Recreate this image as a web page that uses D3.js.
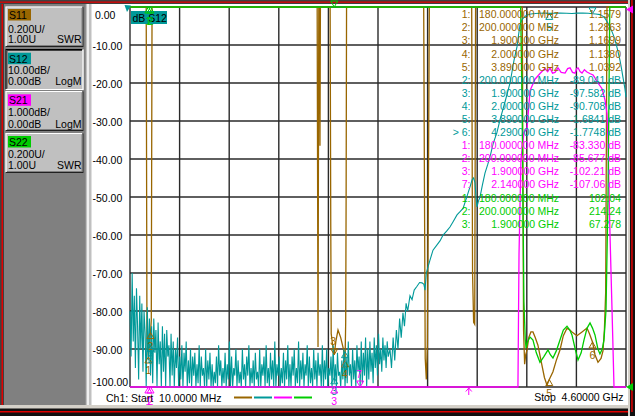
<!DOCTYPE html>
<html><head><meta charset="utf-8">
<script src="https://cdn.jsdelivr.net/npm/d3@7"></script>
<style>
html,body{margin:0;padding:0;background:#fff;overflow:hidden}
svg{display:block}
text{font-family:"Liberation Sans",Arial,sans-serif;font-size:10.5px;white-space:pre}
</style>
</head><body>
<svg id="c" width="635" height="416"></svg>
<script>
// ---------------- data ----------------
const startMHz = 10, stopMHz = 4600;
const xGridMHz = [10,469,928,1387,1846,2305,2764,3223,3682,4141,4600];
const yTicksDb = [0,-10,-20,-30,-40,-50,-60,-70,-80,-90,-100];
const yTickLabels = ["0.00","-10.00","-20.00","-30.00","-40.00","-50.00","-60.00","-70.00","-80.00","-90.00","-100.00"];

const traceNames = ["S11","S12","S21","S22"];
const traceColors = ["#996600","#009999","#ff00ff","#00cc00"];
const panelScale = ["0.200U/","10.00dB/","1.000dB/","0.200U/"];
const panelRef = ["1.00U","0.00dB","0.00dB","1.00U"];
const panelFormat = ["SWR","LogM","LogM","SWR"];

// S11 (SWR) [MHz, SWR]
const s11 = [[10,9],[160,9],[167,1.25],[180,1.158],[190,1.22],[200,1.286],[207,1.35],[214,9],
 [1742,9],[1750,1.21],[1757,9],[1764,9],[1768,2.27],[1772,9],
 [1862,9],[1868,1.84],[1872,1.28],[1885,1.22],[1900,1.17],[1915,1.24],[1935,1.3],[1960,1.26],[1985,1.2],[2000,1.138],[2006,1.34],[2010,2.0],[2014,9],
 [2728,9],[2734,2.17],[2742,1.15],[2752,1.04],[2762,1.22],[2772,2.1],[2780,9],
 [3172,9],[3180,1.6],[3190,1.34],[3200,1.33],[3208,9],
 [3640,9],[3652,1.3],[3662,1.12],[3672,1.17],[3684,1.195],[3700,1.26],[3720,1.29],[3739,1.29],[3760,1.26],[3785,1.22],[3813,1.14],[3845,1.05],[3869,1.01],[3890,1.039],[3924,1.08],[3955,1.14],[3989,1.195],[4020,1.27],[4054,1.31],[4080,1.3],[4100,1.29],[4146,1.27],[4193,1.29],[4239,1.31],[4262,1.28],[4290,1.237],[4313,1.17],[4341,1.13],[4369,1.15],[4387,1.19],[4400,1.3],[4412,1.5],[4424,9],[4600,9]];

// S12 noise floor (dB), 10 MHz spacing from 10 MHz
const s12Noise = [
 -80,-92,-70,-88,-76,-95,-74,-84,-98,-76,-90,-78,-96,-80,-86,-100,-79,-93,-82,-97,
 -84,-99,-82,-91,-85,-102,-83,-94,-88,-100,-84,-96,-86,-103,-85,-92,-89,-101,-86,-97,
 -88,-104,-90,-95,-87,-100,-92,-98,-89,-105,-91,-96,-88,-101,-93,-99,-90,-103,-92,-97,
 -91,-102,-94,-99,-89,-104,-92,-97,-95,-101,-90,-106,-93,-98,-91,-100,-94,-103,-96,-99,
 -92,-101,-89,-97,-93,-105,-95,-99,-91,-102,-94,-98,-88,-104,-92,-100,-95,-97,-90,-103,
 -93,-99,-96,-102,-90,-98,-94,-105,-92,-97,-89,-101,-95,-99,-93,-104,-91,-98,-96,-100,
 -90,-103,-94,-97,-92,-101,-89,-99,-95,-104,-91,-98,-93,-100,-88,-102,-94,-97,-92,-105,
 -95,-99,-91,-102,-93,-98,-89,-100,-94,-103,-92,-97,-90,-101,-95,-99,-88,-104,-93,-98,
 -91,-100,-94,-97,-89,-103,-92,-99,-95,-101,-90,-98,-93,-104,-91,-97,-94,-100,-89,-102,
 -93,-98,-90,-101,-95,-97,-92,-103,-89,-99,-94,-100,-91,-97,-96,-102,-93,-98,-90,-101,
 -92,-99,-88,-97,-94,-102,-90,-98,-93,-100,-89,-96,-92,-101,-88,-99,-91,-97,-87,-100,
 -90,-98,-88,-96,-91,-99,-87,-95,-89,-97,-86,-94,-90,-96,-87,-93,-89,-95,-88,-92];
// S12 rising edge and passband [MHz, dB]
const s12Band = [[2416,-90],[2430,-95],[2445,-87],[2460,-93],[2475,-85],[2490,-90],[2505,-82],[2520,-87],[2536,-80.5],[2550,-84],[2565,-78],[2580,-80],[2601,-76],[2620,-77],[2640,-74.5],[2666,-73.5],[2690,-72.5],[2712,-72.6],[2730,-73],[2740,-74.5],[2752,-70],[2768,-68.4],[2786,-66.6],[2814,-64],[2851,-62.6],[2880,-61.5],[2907,-60],[2940,-59],[2971,-57.9],[3000,-56.5],[3036,-54.7],[3060,-54],[3092,-53],[3115,-51],[3138,-49],[3160,-47],[3175,-45.5],[3190,-45],[3203,-46.3],[3212,-50],[3221,-52.6],[3235,-51],[3249,-50],[3270,-47],[3295,-43.7],[3320,-41.5],[3341,-39.5],[3370,-36],[3406,-33],[3434,-29.7],[3480,-25],[3527,-20],[3564,-14],[3591,-10.5],[3605,-7.5],[3619,-4.7],[3635,-3.5],[3647,-3],[3665,-2.5],[3684,-2.1],[3720,-1.85],[3758,-1.7],[3800,-1.65],[3850,-1.62],[3890,-1.684],[3940,-1.64],[3990,-1.6],[4050,-1.66],[4100,-1.7],[4150,-1.62],[4200,-1.58],[4250,-1.65],[4290,-1.775],[4320,-1.85],[4359,-2.0],[4385,-2.4],[4406,-3.0],[4430,-4.1],[4452,-5.3],[4475,-6.8],[4498,-8.5],[4520,-11],[4544,-14],[4560,-16.5],[4572,-18.5],[4590,-21.5],[4600,-23.7]];

// S21 [MHz, dB]
const s21 = [[10,-80],[180,-83.33],[200,-85.677],[1900,-102.21],[2140,-107.06],[3585,-40],[3600,-12],[3610,-6.5],[3628,-4],[3656,-3.3],[3684,-3.2],[3712,-2.2],[3758,-1.9],[3804,-1.75],[3850,-1.62],[3875,-1.7],[3897,-1.605],[3920,-1.74],[3943,-1.72],[3971,-1.605],[4000,-1.72],[4036,-1.74],[4060,-1.62],[4082,-1.6],[4105,-1.72],[4128,-1.74],[4145,-1.62],[4156,-1.6],[4175,-1.7],[4193,-1.737],[4215,-1.65],[4239,-1.71],[4265,-1.75],[4295,-1.79],[4320,-1.9],[4341,-2.0],[4378,-2.15],[4406,-2.45],[4424,-2.8],[4433,-3.5],[4452,-6],[4471,-8],[4489,-12],[4600,-60]];

// S22 (SWR) [MHz, SWR]
const s22 = [[10,9],[3625,9],[3640,2.4],[3655,1.45],[3668,1.25],[3675,1.205],[3690,1.24],[3712,1.263],[3739,1.247],[3770,1.18],[3804,1.13],[3840,1.16],[3878,1.195],[3900,1.17],[3924,1.153],[3955,1.19],[3989,1.247],[4020,1.3],[4054,1.32],[4080,1.3],[4100,1.274],[4130,1.2],[4156,1.142],[4185,1.18],[4211,1.247],[4240,1.31],[4267,1.337],[4290,1.31],[4313,1.274],[4340,1.2],[4359,1.174],[4380,1.2],[4396,1.247],[4415,1.405],[4433,1.98],[4450,9],[4600,9]];

// markers [number, MHz, value, active]
const s11Markers = [[1,180,1.1579,0],[2,200,1.2863,0],[3,1900,1.1699,1],[4,2000,1.1380,0],[5,3890,1.0392,0],[6,4290,1.237,0]];
const s12Markers = [[2,200,-89.041,0],[3,1900,-97.582,0],[4,2000,-90.708,0],[5,3890,-1.6841,0],[6,4290,-1.7748,1]];
const s21Markers = [[1,180,-83.330,0],[2,200,-85.677,0],[3,1900,-102.21,0],[7,2140,-107.06,1]];
const s22Markers = [[1,180,102.04,0],[2,200,214.24,0],[3,1900,67.278,1]];

// marker readout table: [trace index, label, stimulus, response]
const tableRows = [
 [0,"1:","180.000000 MHz","1.1579"],[0,"2:","200.000000 MHz","1.2863"],[0,"3:","1.900000 GHz","1.1699"],
 [0,"4:","2.000000 GHz","1.1380"],[0,"5:","3.890000 GHz","1.0392"],
 [1,"2:","200.000000 MHz","-89.041 dB"],[1,"3:","1.900000 GHz","-97.582 dB"],[1,"4:","2.000000 GHz","-90.708 dB"],
 [1,"5:","3.890000 GHz","-1.6841 dB"],[1,"> 6:","4.290000 GHz","-1.7748 dB"],
 [2,"1:","180.000000 MHz","-83.330 dB"],[2,"2:","200.000000 MHz","-85.677 dB"],[2,"3:","1.900000 GHz","-102.21 dB"],
 [2,"7:","2.140000 GHz","-107.06 dB"],
 [3,"1:","180.000000 MHz","102.04"],[3,"2:","200.000000 MHz","214.24"],[3,"3:","1.900000 GHz","67.278"]];

const startLabel = "Ch1: Start  10.0000 MHz";
const stopLabel = "Stop  4.60000 GHz";

// ---------------- drawing ----------------
const svg = d3.select("#c");
const X0 = 130, X1 = 626, Y0 = 7, Y1 = 387;
const x = d3.scaleLinear().domain([startMHz, stopMHz]).range([X0, X1]);
const yLog = d3.scaleLinear().domain([-100, 0]).range([Y1, Y0]).clamp(true);
const yS21 = d3.scaleLinear().domain([-10, 0]).range([Y1, Y0]).clamp(true);
const ySwr = d3.scaleLinear().domain([1, 3]).range([Y1, Y0]).clamp(true);
const yScales = [ySwr, yLog, yS21, ySwr];

// background & window frame
svg.append("rect").attr("width",635).attr("height",416).attr("fill","#ffffff");
svg.append("rect").attr("x",0).attr("y",0).attr("width",4).attr("height",416).attr("fill","#404040");
svg.append("rect").attr("x",1.5).attr("y",0).attr("width",1.5).attr("height",410).attr("fill","#e00000");
svg.append("rect").attr("x",0).attr("y",0).attr("width",635).attr("height",4).attr("fill","#404040");
svg.append("rect").attr("x",0).attr("y",1.5).attr("width",635).attr("height",1.3).attr("fill","#e00000");
svg.append("rect").attr("x",0).attr("y",405).attr("width",635).attr("height",11).attr("fill","#d4d0c8");
svg.append("rect").attr("x",0).attr("y",408.5).attr("width",635).attr("height",7.5).attr("fill","#101010");
svg.append("rect").attr("x",0).attr("y",411).attr("width",635).attr("height",1.5).attr("fill","#e00000");
svg.append("rect").attr("x",628).attr("y",0).attr("width",7).attr("height",416).attr("fill","#d4d0c8");
svg.append("rect").attr("x",630).attr("y",0).attr("width",5).attr("height",416).attr("fill","#101010");
svg.append("rect").attr("x",631.2).attr("y",0).attr("width",1.5).attr("height",412).attr("fill","#e00000");

// left panel
svg.append("rect").attr("x",4).attr("y",4).attr("width",81).attr("height",401).attr("fill","#808080");
svg.append("rect").attr("x",84.5).attr("y",4).attr("width",7).attr("height",401).attr("fill","#c0c0c0");
svg.append("line").attr("x1",88).attr("x2",88).attr("y1",4).attr("y2",405).attr("stroke","#ffffff").attr("stroke-width",1.5);
svg.append("line").attr("x1",85).attr("x2",85).attr("y1",4).attr("y2",405).attr("stroke","#606060").attr("stroke-width",1);

const cardTop = [6.5, 49, 91, 133], cardBot = [47, 90, 131, 173];
const boxTop = [9, 52.7, 94.3, 136], scaleBase = [32.5, 74, 116, 158], refBase = [43, 84.7, 127.7, 169];
traceNames.forEach((nm, i) => {
  const g = svg.append("g");
  const t = cardTop[i], b = cardBot[i], l = 5.5, r = 83.5;
  const pressed = (i === 1);
  g.append("rect").attr("x",l).attr("y",t).attr("width",r-l).attr("height",b-t).attr("fill","#c0c0c0");
  const hi = pressed ? "#000000" : "#ffffff", lo = pressed ? "#ffffff" : "#202020";
  g.append("path").attr("d",`M${l+0.5},${b} L${l+0.5},${t+0.5} L${r},${t+0.5}`).attr("fill","none").attr("stroke",hi).attr("stroke-width",1.2);
  g.append("path").attr("d",`M${l},${b-0.5} L${r-0.5},${b-0.5} L${r-0.5},${t}`).attr("fill","none").attr("stroke",lo).attr("stroke-width",1.2);
  if (!pressed) g.append("path").attr("d",`M${l+1.5},${b-1.5} L${r-1.5},${b-1.5} L${r-1.5},${t+1.5}`).attr("fill","none").attr("stroke","#808080").attr("stroke-width",1);
  else g.append("path").attr("d",`M${l+1.5},${b-1.5} L${l+1.5},${t+1.5} L${r-1.5},${t+1.5}`).attr("fill","none").attr("stroke","#404040").attr("stroke-width",1);
  g.append("rect").attr("x",8).attr("y",boxTop[i]).attr("width",23).attr("height",11.5).attr("fill",traceColors[i]);
  g.append("text").attr("x",9).attr("y",boxTop[i]+10).attr("fill","#000").text(nm);
  g.append("text").attr("x",8).attr("y",scaleBase[i]).attr("fill","#000").text(panelScale[i]);
  g.append("text").attr("x",8).attr("y",refBase[i]).attr("fill","#000").text(panelRef[i]);
  g.append("text").attr("x",81.5).attr("y",refBase[i]).attr("text-anchor","end").attr("fill","#000").text(panelFormat[i]);
});

// grid
const grid = svg.append("g").attr("stroke","#2a2a2a").attr("stroke-width",1.4);
grid.selectAll("line.v").data(xGridMHz).join("line").attr("class","v")
  .attr("x1",d=>x(d)).attr("x2",d=>x(d)).attr("y1",Y0).attr("y2",Y1);
grid.selectAll("line.h").data(yTicksDb).join("line").attr("class","h")
  .attr("x1",X0).attr("x2",X1).attr("y1",d=>yLog(d)).attr("y2",d=>yLog(d));

// y tick labels
svg.append("g").selectAll("text").data(yTicksDb).join("text")
  .attr("x",(d,i)=> d===0 ? 95 : 92.5)
  .attr("y",d=> Math.max(19, Math.min(386, yLog(d)+4.5)))
  .attr("fill","#000").text((d,i)=>yTickLabels[i]);

// traces
const s12 = s12Noise.map((v,i)=>[startMHz + i*10, v]).concat(s12Band);
const traceData = [s11, s12, s21, s22];
traceData.forEach((data, i) => {
  const y = yScales[i];
  const line = d3.line().x(d=>x(d[0])).y(d=>y(d[1]));
  svg.append("path").datum(data).attr("d",line).attr("fill","none")
    .attr("stroke",traceColors[i]).attr("stroke-width", i===1 ? 1.1 : 1.3).attr("stroke-linejoin","miter");
});

// "dB S12" tag
svg.append("rect").attr("x",131).attr("y",11).attr("width",36).attr("height",13).attr("fill","#009999");
svg.append("text").attr("x",132.5).attr("y",21.5).attr("fill","#000").text("dB S12");

// marker glyphs
const markerSets = [s11Markers, s12Markers, s21Markers, s22Markers];
markerSets.forEach((ms, i) => {
  const y = yScales[i], col = traceColors[i];
  const g = svg.append("g");
  ms.forEach(m => {
    const px = x(m[1]), py = y(m[2]), act = m[3];
    if (!act) {
      g.append("path").attr("d",`M${px},${py} L${px-3.5},${py+6} L${px+3.5},${py+6} Z`).attr("fill","none").attr("stroke",col).attr("stroke-width",1);
      g.append("text").attr("x",px).attr("y",py+17.5).attr("text-anchor","middle").attr("fill",col).text(m[0]);
    } else {
      g.append("path").attr("d",`M${px},${py} L${px-3.5},${py-6} L${px+3.5},${py-6} Z`).attr("fill","none").attr("stroke",col).attr("stroke-width",1);
      if (py - 9 > 12) g.append("text").attr("x",px-1).attr("y",py-9.5).attr("text-anchor","middle").attr("fill",col).text(m[0]);
    }
  });
});

// reference-position indicators
svg.append("path").attr("d","M124.5,5 L131,5.5 L127,12 Z").attr("fill","#009999");
svg.append("path").attr("d","M626,9.5 L633,5.5 L633,13.5 Z").attr("fill","#ff00ff");
svg.append("path").attr("d","M626,387 L633,383 L633,391 Z").attr("fill","#00cc00");
svg.append("path").attr("d",`M${x(3145)},395 L${x(3145)},388 M${x(3145)-3},391.5 L${x(3145)},388 L${x(3145)+3},391.5`)
  .attr("fill","none").attr("stroke","#ff00ff").attr("stroke-width",1);

// marker table
const rowBase = i => 18.3 + 13.09*i;
const tg = svg.append("g");
tableRows.forEach((r, i) => {
  const col = traceColors[r[0]];
  tg.append("text").attr("x",470.5).attr("y",rowBase(i)).attr("text-anchor","end").attr("fill",col).text(r[1]);
  tg.append("text").attr("x",559).attr("y",rowBase(i)).attr("text-anchor","end").attr("fill",col).text(r[2]);
  tg.append("text").attr("x",621).attr("y",rowBase(i)).attr("text-anchor","end").attr("fill",col).text(r[3]);
});

// bottom annotation
svg.append("text").attr("x",106).attr("y",401.5).attr("fill","#000").text(startLabel);
svg.append("text").attr("x",623.5).attr("y",401).attr("text-anchor","end").attr("fill","#000").text(stopLabel);
const legendX = [234, 254, 274, 294];
traceColors.forEach((c, i) => {
  svg.append("line").attr("x1",legendX[i]).attr("x2",legendX[i]+18).attr("y1",397.5).attr("y2",397.5)
    .attr("stroke",c).attr("stroke-width",2);
});
</script>
</body></html>
